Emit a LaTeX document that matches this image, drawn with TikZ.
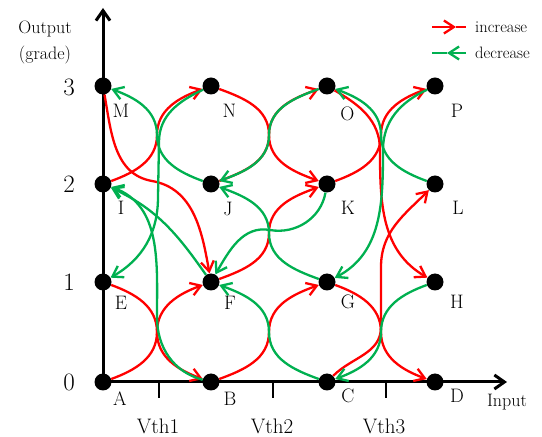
\documentclass[tikz,border=0pt]{standalone}
\usetikzlibrary{arrows.meta,calc}
\definecolor{incred}{RGB}{255,0,0}
\definecolor{decgreen}{RGB}{0,176,80}
\newcommand\sUR[3]{\draw[#1] (#2) to[out=20,in=-90] ($(#2)!.5!(#3)$) to[out=90,in=200] (#3);}
\newcommand\sDR[3]{\draw[#1] (#2) to[out=-20,in=90] ($(#2)!.5!(#3)$) to[out=-90,in=160] (#3);}
\newcommand\sUL[3]{\draw[#1] (#2) to[out=160,in=-90] ($(#2)!.5!(#3)$) to[out=90,in=-20] (#3);}
\newcommand\sDL[3]{\draw[#1] (#2) to[out=200,in=90] ($(#2)!.5!(#3)$) to[out=-90,in=20] (#3);}
\begin{document}
\begin{tikzpicture}[x=1pt,y=1pt,
  dot/.style={circle,fill=black,minimum size=17pt,inner sep=0pt},
  lbl/.style={font=\fontsize{19.5}{20}\selectfont,inner sep=0pt},
  num/.style={font=\fontsize{25}{26}\selectfont,inner sep=0pt},
  vth/.style={font=\fontsize{21}{22}\selectfont,inner sep=0pt},
  axt/.style={font=\fontsize{18}{19}\selectfont,inner sep=0pt},
  legt/.style={font=\fontsize{16.5}{17}\selectfont,inner sep=0pt,anchor=west},
  tipa/.style={-{Straight Barb[length=10pt,width=13pt]}},
  curve/.style={line width=2.3pt},
  inc/.style={curve,draw=incred,tipa},
  dec/.style={curve,draw=decgreen,tipa},
  incl/.style={curve,draw=incred},
  decl/.style={curve,draw=decgreen},
  axis/.style={line width=3pt,-{Straight Barb[length=10pt,width=14pt]}},
  tick/.style={line width=2.5pt},
]
\useasboundingbox (0,0) rectangle (542,437);
% nodes
\node[dot] (A) at (103,55) {};
\node[dot] (B) at (211,55) {};
\node[dot] (C) at (327,55) {};
\node[dot] (D) at (435,55) {};
\node[dot] (E) at (103,155) {};
\node[dot] (F) at (211,155) {};
\node[dot] (G) at (327,155) {};
\node[dot] (H) at (435,155) {};
\node[dot] (I) at (103,253) {};
\node[dot] (J) at (211,253) {};
\node[dot] (K) at (327,253) {};
\node[dot] (L) at (435,253) {};
\node[dot] (M) at (103,351) {};
\node[dot] (N) at (211,351) {};
\node[dot] (O) at (327,351) {};
\node[dot] (P) at (435,351) {};
% axes
\coordinate (ytip) at (103,429);
\coordinate (xtip) at (507,55);
\draw[axis] (A.center) -- (ytip);
\draw[axis] (A.center) -- (xtip);
\coordinate (t1a) at (159,55); \coordinate (t1b) at (159,39);
\coordinate (t2a) at (273,55); \coordinate (t2b) at (273,39);
\coordinate (t3a) at (386,55); \coordinate (t3b) at (386,39);
\draw[tick] (t1a) -- (t1b);
\draw[tick] (t2a) -- (t2b);
\draw[tick] (t3a) -- (t3b);
% axis texts
\node[axt] (outp) at (45,408) {Output};
\node[axt] (grade) at (45,382) {(grade)};
\node[axt] (inp) at (507,34.5) {Input};
\node[num] (n3) at (69,350) {3};
\node[num] (n2) at (69,253) {2};
\node[num] (n1) at (69,155) {1};
\node[num] (n0) at (69,55) {0};
\node[vth] (v1) at (158,11) {Vth1};
\node[vth] (v2) at (272,11) {Vth2};
\node[vth] (v3) at (384,11) {Vth3};
% node labels
\node[lbl] (lM) at (121,326) {M};
\node[lbl] (lN) at (229.5,326) {N};
\node[lbl] (lO) at (347.5,323) {O};
\node[lbl] (lP) at (457,326) {P};
\node[lbl] (lI) at (121,229) {I};
\node[lbl] (lJ) at (228,228) {J};
\node[lbl] (lK) at (348,229) {K};
\node[lbl] (lL) at (458,229) {L};
\node[lbl] (lE) at (121,134) {E};
\node[lbl] (lF) at (230,134) {F};
\node[lbl] (lG) at (348,135) {G};
\node[lbl] (lH) at (457,135) {H};
\node[lbl] (lA) at (120,38.5) {A};
\node[lbl] (lB) at (230,38.5) {B};
\node[lbl] (lC) at (348,41.5) {C};
\node[lbl] (lD) at (457,41.5) {D};
% red: increase
\sUR{inc}{A}{F}
\sDR{inc}{E}{B}
\sUR{inc}{I}{N}
\draw[inc] (M) to[out=-80,in=170] (152,256) to[out=-10,in=100] (F);
\sUR{inc}{B}{G}
\sUR{inc}{F}{K}
\sUR{inc}{J}{O}
\sDR{inc}{N}{K}
\draw[inc] (C) to[out=45,in=-90] (381,110) -- (381,170) to[out=90,in=225] (L);
\sDR{inc}{G}{D}
\sUR{inc}{K}{P}
\draw[inc] (O) to[out=-30,in=90] (380,287) to[out=-90,in=150] (H);
% green: decrease
\draw[dec] (B) to[out=165,in=-90] (157,120) to[out=90,in=-20] (I);
\draw[dec] (F) to[out=125,in=-25] (I);
\sUL{dec}{J}{M}
\draw[dec] (N) to[out=205,in=90] (159,295) -- (158,240) to[out=-90,in=30] (E);
\sUL{dec}{C}{F}
\sUL{dec}{G}{J}
\draw[dec] (K) to[out=-100,in=-10] (270,207) to[out=170,in=60] (F);
\sDL{dec}{O}{J}
\sDL{dec}{H}{C}
\sUL{dec}{L}{O}
\draw[dec] (P) to[out=205,in=90] (383,287) to[out=-90,in=28] (G);
% legend
\coordinate (li1) at (432,410); \coordinate (lim) at (456,410); \coordinate (li2) at (466,410);
\coordinate (ld1) at (432,384); \coordinate (ldm) at (447,384); \coordinate (ld2) at (466,384);
\draw[inc] (li1) -- (lim);
\draw[incl] (lim) -- (li2);
\draw[dec] (ld2) -- (ldm);
\draw[decl] (ldm) -- (ld1);
\node[legt] (tinc) at (475,410) {increase};
\node[legt] (tdec) at (475,384) {decrease};
\end{tikzpicture}
\end{document}
